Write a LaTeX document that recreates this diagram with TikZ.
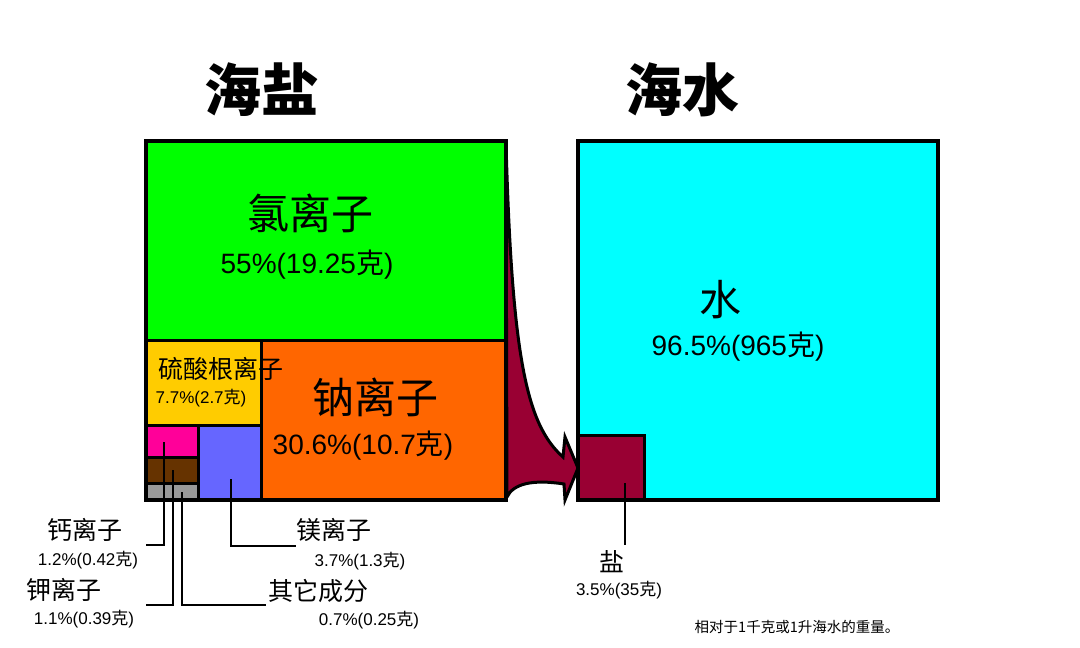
\documentclass[tikz,border=0pt]{standalone}
\usepackage{fontspec}
\setmainfont{Liberation Sans}
\newfontfamily\cjk{Noto Sans CJK SC}
\newcommand\ke{{\cjk 克}}
\definecolor{chlor}{HTML}{00FF00}
\definecolor{natr}{HTML}{FF6600}
\definecolor{sulf}{HTML}{FFCC00}
\definecolor{calc}{HTML}{FF0099}
\definecolor{kali}{HTML}{663300}
\definecolor{rest}{HTML}{999999}
\definecolor{magn}{HTML}{6666FF}
\definecolor{aqua}{HTML}{00FFFF}
\definecolor{salt}{HTML}{990033}

\begin{document}
\begin{tikzpicture}[x=1pt,y=-1pt]
		\tikzset{
			cell/.style=
			{draw, line width=3pt},
			frame/.style=
			{draw, line width=4pt},
			lead/.style=
			{draw, line width=2.5pt},
			title/.style=
			{font=\cjk\bfseries\fontsize{57}{57}\selectfont, inner sep=0},
			ion/.style=
			{font=\cjk\fontsize{42}{42}\selectfont, inner sep=0},
			pct/.style=
			{font=\fontsize{28}{28}\selectfont, inner sep=0},
			tag/.style=
			{font=\cjk\fontsize{25}{25}\selectfont, inner sep=0},
			val/.style=
			{font=\fontsize{17}{17}\selectfont, inner sep=0},
		}
		\useasboundingbox (0,0) rectangle (1080,648);
		% flow from sea salt to sea water
		\filldraw[fill=salt, line width=3pt, line join=miter]
		(506,143) .. controls (512,360) and (527,425) .. (563,457)
		-- (565,437) -- (578,468) -- (565,500) -- (564,484)
		.. controls (532,479) and (513,484) .. (507,497) -- cycle;
		% sea salt
		\filldraw[cell, fill=chlor] (146,141) rectangle (506,340);
		\filldraw[cell, fill=sulf] (146,340) rectangle (261,425);
		\filldraw[cell, fill=natr] (261,340) rectangle (506,500);
		\filldraw[cell, fill=calc] (146,425) rectangle (198,457);
		\filldraw[cell, fill=kali] (146,457) rectangle (198,483);
		\filldraw[cell, fill=rest] (146,483) rectangle (198,500);
		\filldraw[cell, fill=magn] (198,425) rectangle (261,500);
		\draw[frame] (146,141) rectangle (506,500);
		% sea water
		\filldraw[frame, fill=aqua] (578,141) rectangle (938,500);
		\filldraw[cell, fill=salt] (578,435) rectangle (644,500);
		\draw[frame] (578,141) rectangle (938,500);
		% titles
		\node[title] (seasalt) at (261,90) {海盐};
		\node[title] (seawater) at (682,90) {海水};
		% labels inside
		\node[ion] (chlorName) at (310,213) {氯离子};
		\node[pct] (chlorVal) at (307,265) {55\%(19.25\ke)};
		\node[ion] (natrName) at (375,397) {钠离子};
		\node[pct] (natrVal) at (363,446) {30.6\%(10.7\ke)};
		\node[tag, anchor=west] (sulfName) at (158,369) {硫酸根离子};
		\node[val] (sulfVal) at (201,398) {7.7\%(2.7\ke)};
		\node[ion] (waterName) at (720,300) {水};
		\node[pct] (waterVal) at (738,347) {96.5\%(965\ke)};
		% leaders
		\coordinate (calcIn) at (164,442);
		\coordinate (calcEnd) at (146,545);
		\coordinate (kaliIn) at (173,470);
		\coordinate (kaliEnd) at (146,605);
		\coordinate (restIn) at (182,492);
		\coordinate (restEnd) at (266,605);
		\coordinate (magnIn) at (231,479);
		\coordinate (magnEnd) at (296,546);
		\coordinate (saltIn) at (625,483);
		\coordinate (saltEnd) at (625,545);
		\draw[lead] (calcIn) |- (calcEnd);
		\draw[lead] (kaliIn) |- (kaliEnd);
		\draw[lead] (restIn) |- (restEnd);
		\draw[lead] (magnIn) |- (magnEnd);
		\draw[lead] (saltIn) -- (saltEnd);
		% labels outside
		\node[tag] (calcName) at (85,530) {钙离子};
		\node[val] (calcVal) at (88,560) {1.2\%(0.42\ke)};
		\node[tag] (kaliName) at (64,590) {钾离子};
		\node[val] (kaliVal) at (84,619) {1.1\%(0.39\ke)};
		\node[tag] (magnName) at (334,530) {镁离子};
		\node[val] (magnVal) at (360,561) {3.7\%(1.3\ke)};
		\node[tag] (restName) at (318,591) {其它成分};
		\node[val] (restVal) at (369,620) {0.7\%(0.25\ke)};
		\node[tag] (saltName) at (612,562) {盐};
		\node[val] (saltVal) at (619,590) {3.5\%(35\ke)};
		\node[font=\cjk\fontsize{14.5}{14.5}\selectfont, inner sep=0] (note) at (797,627) {相对于1千克或1升海水的重量。};
\end{tikzpicture}
\end{document}
